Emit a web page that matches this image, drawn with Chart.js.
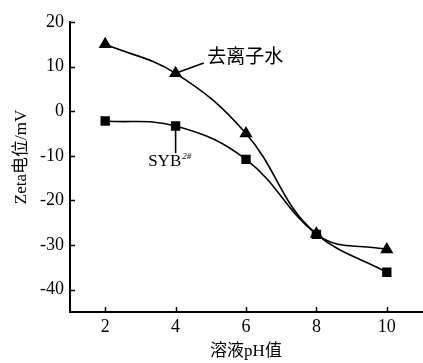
<!DOCTYPE html>
<html>
<head>
<meta charset="utf-8">
<script src="https://cdn.jsdelivr.net/npm/chart.js@4/dist/chart.umd.min.js"></script>
<style>
  html, body { margin: 0; padding: 0; background: #fff; }
  #wrap { width: 423px; height: 363px; }
</style>
</head>
<body>
<div id="wrap"><canvas id="c" width="423" height="363"></canvas></div>
<script>
// Zeta potential vs. solution pH
const phValues = [2, 4, 6, 8, 10];
const deionizedWater = [15, 8.5, -5, -27.5, -31];
const syb2 = [-2.2, -3.3, -10.8, -27.6, -36.1];
const xTickValues = [2, 4, 6, 8, 10];
const yTickValues = [20, 10, 0, -10, -20, -30, -40];

const xTitle = '溶液pH值';
const yTitle = 'Zeta电位/mV';
const waterLabel = '去离子水';
const sybLabel = 'SYB';
const sybSup = '2#';

const serif = "'Liberation Serif', 'Noto Sans CJK SC', serif";

const toPoints = ys => phValues.map((x, i) => ({ x, y: ys[i] }));

// Inward tick marks, axis titles and the two callouts
const decorations = {
  id: 'decorations',
  afterDraw(chart) {
    const { ctx, chartArea, scales } = chart;
    const xs = scales.x, ys = scales.y;
    ctx.save();
    ctx.strokeStyle = '#000';
    ctx.fillStyle = '#000';
    ctx.lineWidth = 1.5;
    ctx.beginPath();
    xTickValues.forEach(v => {
      const px = Math.round(xs.getPixelForValue(v)) + 0.5;
      ctx.moveTo(px, chartArea.bottom);
      ctx.lineTo(px, chartArea.bottom - 5);
    });
    yTickValues.forEach(v => {
      const py = Math.round(ys.getPixelForValue(v)) + 0.5;
      ctx.moveTo(chartArea.left, py);
      ctx.lineTo(chartArea.left + 5, py);
    });
    ctx.stroke();

    // axis titles
    ctx.font = '17px ' + serif;
    ctx.textAlign = 'center';
    ctx.textBaseline = 'middle';
    ctx.fillText(xTitle, xs.getPixelForValue(6), 352);
    ctx.save();
    ctx.translate(22, 157);
    ctx.rotate(-Math.PI / 2);
    ctx.fillText(yTitle, 0, 0);
    ctx.restore();

    // callout for deionized water
    ctx.lineWidth = 1.6;
    ctx.beginPath();
    ctx.moveTo(xs.getPixelForValue(4), ys.getPixelForValue(8.5));
    ctx.lineTo(xs.getPixelForValue(4.8), ys.getPixelForValue(10.8));
    ctx.stroke();
    ctx.font = "19px 'Noto Sans CJK SC', sans-serif";
    ctx.textAlign = 'left';
    ctx.fillText(waterLabel, xs.getPixelForValue(4.9), ys.getPixelForValue(12.4));

    // callout for SYB2#
    ctx.beginPath();
    ctx.moveTo(xs.getPixelForValue(4), ys.getPixelForValue(-3.3));
    ctx.lineTo(xs.getPixelForValue(4), ys.getPixelForValue(-9.4));
    ctx.stroke();
    ctx.font = '17px ' + serif;
    ctx.textAlign = 'left';
    const sx = xs.getPixelForValue(3.22);
    const sy = ys.getPixelForValue(-11.3);
    ctx.fillText(sybLabel, sx, sy);
    const w = ctx.measureText(sybLabel).width;
    ctx.font = "italic 9px 'Liberation Serif', serif";
    ctx.fillText(sybSup, sx + w + 1, sy - 5);
    ctx.restore();
  }
};

new Chart(document.getElementById('c'), {
  type: 'line',
  data: {
    datasets: [
      {
        label: waterLabel,
        data: toPoints(deionizedWater),
        borderColor: '#000',
        backgroundColor: '#000',
        borderWidth: 1.6,
        tension: 0.4,
        pointStyle: 'triangle',
        pointRadius: 6,
        pointHoverRadius: 6
      },
      {
        label: sybLabel + sybSup,
        data: toPoints(syb2),
        borderColor: '#000',
        backgroundColor: '#000',
        borderWidth: 1.6,
        tension: 0.4,
        pointStyle: 'rect',
        pointRadius: 5.5,
        pointHoverRadius: 5.5
      }
    ]
  },
  options: {
    responsive: false,
    animation: false,
    devicePixelRatio: 1,
    layout: { autoPadding: false, padding: { top: 22, right: 1, left: 0, bottom: 0 } },
    plugins: { legend: { display: false }, tooltip: { enabled: false } },
    scales: {
      x: {
        type: 'linear',
        min: 1,
        max: 11,
        afterBuildTicks: axis => { axis.ticks = xTickValues.map(v => ({ value: v })); },
        afterFit: axis => { axis.height = 51; },
        grid: { drawOnChartArea: false, drawTicks: false },
        border: { color: '#000', width: 2 },
        ticks: { color: '#000', padding: 4, font: { family: serif, size: 18 } }
      },
      y: {
        type: 'linear',
        min: -45,
        max: 20,
        afterBuildTicks: axis => { axis.ticks = yTickValues.map(v => ({ value: v })); },
        afterFit: axis => { axis.width = 70; },
        grid: { drawOnChartArea: false, drawTicks: false },
        border: { color: '#000', width: 2 },
        ticks: { color: '#000', padding: 6, font: { family: serif, size: 18 } }
      }
    }
  },
  plugins: [decorations]
});
</script>
</body>
</html>
